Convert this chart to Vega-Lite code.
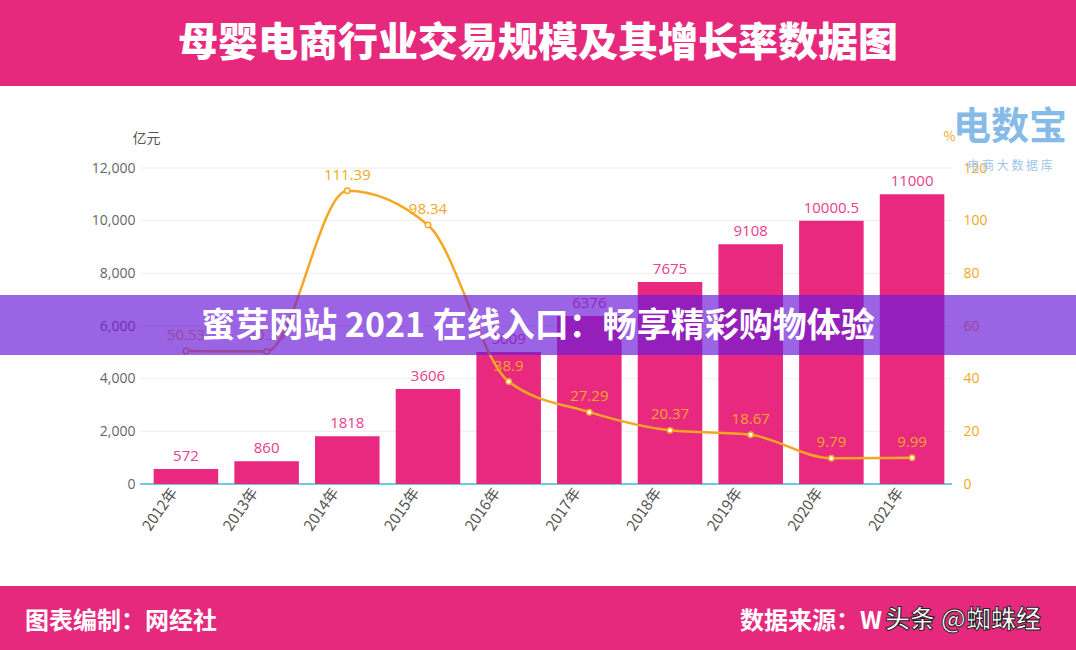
{
  "$schema": "https://vega.github.io/schema/vega-lite/v6.json",
  "background": "#e7297e",
  "padding": {"top": 24, "left": 0, "right": 0, "bottom": 0},
  "spacing": 0,
  "title": {
    "text": "母婴电商行业交易规模及其增长率数据图",
    "font": "Noto Sans CJK SC",
    "fontSize": 40,
    "fontWeight": 900,
    "color": "white",
    "anchor": "middle",
    "frame": "group",
    "baseline": "top",
    "offset": 22
  },
  "config": {"view": {"stroke": null}, "font": "Noto Sans CJK SC"},
  "vconcat": [
    {
      "width": 1076,
      "height": 500,
      "view": {"fill": "white", "stroke": null},
      "data": {
        "values": [
          {"year": "2012年", "amount": 572, "growth": 50.53},
          {"year": "2013年", "amount": 860, "growth": 50.35},
          {"year": "2014年", "amount": 1818, "growth": 111.39},
          {"year": "2015年", "amount": 3606, "growth": 98.34},
          {"year": "2016年", "amount": 5009, "growth": 38.9},
          {"year": "2017年", "amount": 6376, "growth": 27.29},
          {"year": "2018年", "amount": 7675, "growth": 20.37},
          {"year": "2019年", "amount": 9108, "growth": 18.67},
          {"year": "2020年", "amount": 10000.5, "growth": 9.79},
          {"year": "2021年", "amount": 11000, "growth": 9.99}
        ]
      },
      "layer": [
        {
          "data": {"values": [{"v": 0}, {"v": 2000}, {"v": 4000}, {"v": 6000}, {"v": 8000}, {"v": 10000}, {"v": 12000}]},
          "mark": {"type": "rule"},
          "encoding": {
            "x": {"datum": 0, "type": "quantitative", "scale": {"domain": [-0.1724, 1.1527], "nice": false, "zero": false}, "axis": null},
            "x2": {"datum": 1},
            "y": {"field": "v", "type": "quantitative", "scale": {"domain": [-3873, 15114], "nice": false, "zero": false}, "axis": null},
            "color": {"condition": {"test": "datum.v === 0", "value": "#6ccbe0"}, "value": "#eeeeee"},
            "strokeWidth": {"condition": {"test": "datum.v === 0", "value": 2}, "value": 1}
          }
        },
        {
          "layer": [
            {
              "layer": [
                {
                  "mark": {"type": "bar", "color": "#e8297f"},
                  "encoding": {
                    "x": {
                      "field": "year", "type": "nominal", "sort": null,
                      "scale": {"type": "band", "range": [146, 952], "paddingInner": 0.2, "paddingOuter": 0.095, "align": 0.5},
                      "axis": {
                        "orient": "bottom", "offset": -102, "title": null, "domain": false, "ticks": false,
                        "labelAngle": -55, "labelAlign": "right", "labelBaseline": "middle", "labelOffset": -12,
                        "labelFontSize": 15, "labelColor": "#555555", "labelPadding": 5, "labelFont": "Noto Sans CJK SC"
                      }
                    },
                    "y": {
                      "field": "amount", "type": "quantitative",
                      "scale": {"domain": [-3873, 15114], "nice": false, "zero": false},
                      "axis": {
                        "orient": "left", "offset": -141, "values": [0, 2000, 4000, 6000, 8000, 10000, 12000],
                        "formatType": "number", "format": ",.0f", "grid": false, "domain": false, "ticks": false, "labelPadding": 6,
                        "labelFontSize": 14, "labelColor": "#666666", "labelFont": "Open Sans",
                        "title": "亿元", "titleAngle": 0, "titleX": 5, "titleY": 52, "titleAlign": "center",
                        "titleBaseline": "middle", "titleFontSize": 14, "titleFontWeight": "normal", "titleColor": "#555555"
                      }
                    },
                    "y2": {"datum": 0}
                  }
                },
                {
                  "mark": {"type": "text", "color": "#e8408a", "fontSize": 15, "baseline": "bottom", "dy": -5, "font": "Open Sans"},
                  "encoding": {
                    "x": {"field": "year", "type": "nominal", "sort": null},
                    "y": {"field": "amount", "type": "quantitative"},
                    "text": {"field": "amount", "type": "nominal"}
                  }
                },
                {
                  "data": {"values": [{"logo": "电数宝"}]},
                  "mark": {"type": "text", "color": "#86bbe8", "fontSize": 38, "fontWeight": "bold", "align": "center", "baseline": "middle", "dx": 98},
                  "encoding": {
                    "x": {"datum": "2021年", "type": "nominal"},
                    "y": {"datum": 13519, "type": "quantitative"},
                    "text": {"field": "logo"}
                  }
                },
                {
                  "data": {"values": [{"logo": "电 商 大 数 据 库"}]},
                  "mark": {"type": "text", "color": "#9cc6ea", "fontSize": 12, "align": "center", "baseline": "middle", "dx": 98},
                  "encoding": {
                    "x": {"datum": "2021年", "type": "nominal"},
                    "y": {"datum": 12076, "type": "quantitative"},
                    "text": {"field": "logo"}
                  }
                }
              ]
            },
            {
              "layer": [
                {
                  "mark": {"type": "line", "color": "#f5a623", "strokeWidth": 2.5, "interpolate": "monotone"},
                  "encoding": {
                    "x": {"field": "year", "type": "nominal", "sort": null},
                    "y": {
                      "field": "growth", "type": "quantitative",
                      "scale": {"domain": [-38.73, 151.14], "nice": false, "zero": false},
                      "axis": {
                        "orient": "right", "offset": -118, "values": [0, 20, 40, 60, 80, 100, 120],
                        "formatType": "number", "format": "d",
                        "grid": false, "domain": false, "ticks": false, "labelPadding": 5,
                        "labelFontSize": 14, "labelColor": "#f5a623", "labelFont": "Open Sans",
                        "title": "%", "titleAngle": 0, "titleX": -9, "titleY": 50, "titleAlign": "center",
                        "titleBaseline": "middle", "titleFontSize": 13, "titleFontWeight": "normal", "titleColor": "#f5a623"
                      }
                    }
                  }
                },
                {
                  "mark": {"type": "point", "filled": true, "fill": "white", "stroke": "#f5a623", "strokeWidth": 1.5, "size": 30, "opacity": 1},
                  "encoding": {
                    "x": {"field": "year", "type": "nominal", "sort": null},
                    "y": {"field": "growth", "type": "quantitative"}
                  }
                },
                {
                  "mark": {"type": "text", "color": "#f5a623", "fontSize": 15, "baseline": "bottom", "dy": -8, "font": "Open Sans"},
                  "encoding": {
                    "x": {"field": "year", "type": "nominal", "sort": null},
                    "y": {"field": "growth", "type": "quantitative"},
                    "text": {"field": "growth", "type": "nominal"}
                  }
                }
              ]
            }
          ],
          "resolve": {"scale": {"y": "independent"}}
        },
        {
          "data": {"values": [{"banner": "蜜芽网站 2021 在线入口：畅享精彩购物体验"}]},
          "layer": [
            {
              "mark": {"type": "rect", "color": "#6c1bd7", "opacity": 0.68},
              "encoding": {
                "y": {"datum": 7177, "type": "quantitative", "scale": {"domain": [-3873, 15114], "nice": false, "zero": false}, "axis": null},
                "y2": {"datum": 4899}
              }
            },
            {
              "mark": {"type": "text", "color": "white", "fontSize": 34, "fontWeight": "bold", "align": "center", "baseline": "middle", "font": "Noto Sans CJK SC"},
              "encoding": {
                "y": {"datum": 5962, "type": "quantitative"},
                "text": {"field": "banner"}
              }
            }
          ]
        }
      ],
      "resolve": {"scale": {"x": "independent", "y": "independent"}}
    },
    {
      "width": 1076,
      "height": 64,
      "view": {"fill": "#e7297e", "stroke": null},
      "data": {
        "values": [
          {"side": "left", "label": "图表编制：网经社"},
          {"side": "right", "label": "数据来源：W"}
        ]
      },
      "layer": [
        {
          "mark": {"type": "text", "color": "white", "fontSize": 24, "fontWeight": "bold", "align": "left", "baseline": "middle", "dy": 4, "font": "Noto Sans CJK SC"},
          "encoding": {
            "x": {"field": "side", "type": "nominal", "sort": null, "scale": {"type": "point", "padding": 0.2524, "align": 0.0693}, "axis": null},
            "text": {"field": "label"}
          }
        },
        {
          "transform": [{"filter": "datum.side === 'right'"}],
          "mark": {"type": "text", "text": "头条 @蜘蛛经", "fill": "white", "stroke": "#222222", "strokeWidth": 1, "fontSize": 25, "fontWeight": "bold", "align": "left", "baseline": "middle", "dx": 145, "dy": 2, "font": "Noto Sans CJK SC"},
          "encoding": {
            "x": {"field": "side", "type": "nominal", "sort": null}
          }
        }
      ]
    }
  ]
}
